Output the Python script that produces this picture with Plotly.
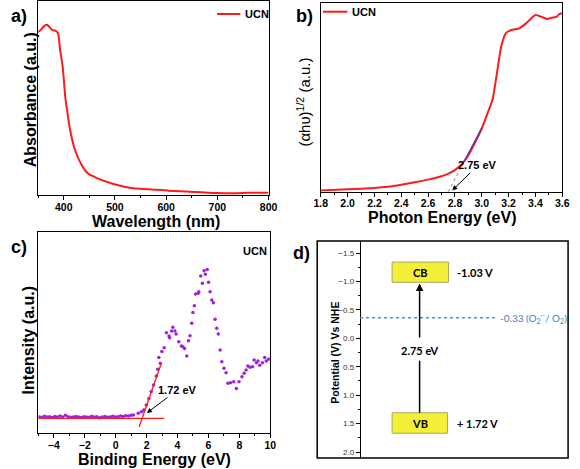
import plotly.graph_objects as go

W, H = 580, 469
def px(x): return x / W
def py(y): return 1 - y / H

FONT = "Arial, 'Liberation Sans', sans-serif"
RED = "#ff1a1a"

# ---------------- Panel a: UV-vis absorbance ----------------
wavelength = [350, 355, 360, 364, 368, 372, 378, 385, 389, 393, 398, 403, 406.5, 412.5, 422,
              435, 447, 466, 497, 535, 567, 605, 640, 669, 700, 732, 760, 795, 800]
absorbance = [0.84, 0.85, 0.866, 0.875, 0.876, 0.866, 0.85, 0.845, 0.833, 0.747, 0.66, 0.507,
              0.438, 0.335, 0.232, 0.155, 0.112, 0.086, 0.057, 0.035, 0.03, 0.022, 0.018,
              0.014, 0.01, 0.009, 0.011, 0.012, 0.012]

# ---------------- Panel b: Tauc plot ----------------
photon_energy = [1.8, 2.0, 2.2, 2.3, 2.4, 2.5, 2.6, 2.68, 2.74, 2.79, 2.83, 2.87, 2.91, 2.95,
                 3.0, 3.04, 3.08, 3.12, 3.145, 3.18, 3.22, 3.28, 3.33, 3.37, 3.40, 3.44, 3.49,
                 3.52, 3.56, 3.58, 3.6]
tauc = [0.007, 0.013, 0.02, 0.026, 0.037, 0.05, 0.064, 0.078, 0.092, 0.11, 0.132, 0.162,
        0.205, 0.26, 0.335, 0.41, 0.487, 0.66, 0.77, 0.84, 0.857, 0.866, 0.892, 0.919,
        0.937, 0.928, 0.915, 0.922, 0.928, 0.942, 0.946]
tangent_x = [2.75, 3.0]
tangent_y = [0.0, 0.337]
fit_x = [2.87, 3.0]
fit_y = [0.162, 0.337]
band_gap = 2.75

# ---------------- Panel c: VB-XPS ----------------
binding_energy = [-4.95, -4.78, -4.61, -4.44, -4.27, -4.10, -3.93, -3.76, -3.59, -3.42, -3.25,
                  -3.08, -2.91, -2.74, -2.57, -2.40, -2.23, -2.06, -1.89, -1.72, -1.55, -1.38,
                  -1.21, -1.04, -0.87, -0.70, -0.53, -0.36, -0.19, -0.02, 0.15, 0.32, 0.49,
                  0.66, 0.83, 1.00, 1.15, 1.46, 1.67, 1.82, 1.98, 2.15, 2.30, 2.45, 2.63, 2.72,
                  2.79, 2.89, 2.99, 3.14, 3.28, 3.45, 3.49, 3.62, 3.70, 3.83, 3.91, 4.08, 4.25,
                  4.35, 4.46, 4.60, 4.71, 4.81, 4.92, 5.00, 5.09, 5.17, 5.34, 5.38, 5.50, 5.61,
                  5.72, 5.80, 5.92, 6.01, 6.11, 6.22, 6.32, 6.43, 6.54, 6.64, 6.76, 6.87, 7.01,
                  7.14, 7.26, 7.43, 7.64, 7.81, 7.98, 8.17, 8.31, 8.44, 8.55, 8.69, 8.86, 8.96,
                  9.11, 9.21, 9.32, 9.49, 9.64, 9.74, 9.89]
intensity = [0.080, 0.078, 0.083, 0.079, 0.081, 0.077, 0.082, 0.080, 0.084, 0.079, 0.088,
             0.081, 0.078, 0.080, 0.082, 0.079, 0.077, 0.081, 0.080, 0.078, 0.083, 0.079,
             0.081, 0.076, 0.080, 0.082, 0.078, 0.080, 0.083, 0.079, 0.081, 0.084, 0.082,
             0.086, 0.085, 0.088, 0.090, 0.098, 0.106, 0.114, 0.139, 0.172, 0.206, 0.239,
             0.284, 0.317, 0.376, 0.347, 0.405, 0.424, 0.499, 0.483, 0.474, 0.507, 0.526,
             0.507, 0.493, 0.454, 0.433, 0.429, 0.421, 0.383, 0.459, 0.484, 0.546, 0.600,
             0.633, 0.692, 0.695, 0.703, 0.781, 0.745, 0.807, 0.790, 0.814, 0.750, 0.703,
             0.662, 0.648, 0.566, 0.521, 0.493, 0.413, 0.355, 0.322, 0.300, 0.247, 0.250,
             0.255, 0.222, 0.255, 0.280, 0.297, 0.313, 0.333, 0.327, 0.330, 0.363, 0.350,
             0.358, 0.337, 0.350, 0.376, 0.358, 0.367]
base_fit_x = [-5.0, 3.14]
base_fit_y = [0.073, 0.073]
edge_fit_x = [1.52, 2.93]
edge_fit_y = [0.031, 0.342]
vb_xps = 1.72

# ---------------- Panel d: band diagram ----------------
cb_potential = -1.03
vb_potential = 1.72
o2_level = -0.36
cb_box = [-1.34, -0.985]
vb_box = [1.31, 1.67]

fig = go.Figure()

fig.add_trace(go.Scatter(x=wavelength, y=absorbance, mode="lines",
                         line=dict(color=RED, width=2, shape="spline", smoothing=0.6),
                         xaxis="x", yaxis="y", showlegend=False))

fig.add_trace(go.Scatter(x=tangent_x, y=tangent_y, mode="lines",
                         line=dict(color="#888888", width=1, dash="dot"),
                         xaxis="x2", yaxis="y2", showlegend=False))
fig.add_trace(go.Scatter(x=photon_energy, y=tauc, mode="lines",
                         line=dict(color=RED, width=2, shape="spline", smoothing=0.5),
                         xaxis="x2", yaxis="y2", showlegend=False))
fig.add_trace(go.Scatter(x=fit_x, y=fit_y, mode="lines",
                         line=dict(color="#5a2ad0", width=1.2),
                         xaxis="x2", yaxis="y2", showlegend=False))

fig.add_trace(go.Scatter(x=binding_energy, y=intensity, mode="markers",
                         marker=dict(color="#a020e0", size=3.5),
                         xaxis="x3", yaxis="y3", showlegend=False))
fig.add_trace(go.Scatter(x=base_fit_x, y=base_fit_y, mode="lines",
                         line=dict(color=RED, width=1.3),
                         xaxis="x3", yaxis="y3", showlegend=False))
fig.add_trace(go.Scatter(x=edge_fit_x, y=edge_fit_y, mode="lines",
                         line=dict(color=RED, width=1.3),
                         xaxis="x3", yaxis="y3", showlegend=False))

# invisible trace to activate panel d axes
fig.add_trace(go.Scatter(x=[0.5], y=[o2_level], mode="markers", marker=dict(opacity=0),
                         xaxis="x4", yaxis="y4", showlegend=False, hoverinfo="skip"))

tickfont = dict(family=FONT, size=10.5, color="black", weight="bold")

def frame_x(domain, rng, dtick, minor, fmt=None, tick0=None):
    d = dict(domain=domain, range=rng, dtick=dtick, showline=True, linecolor="black",
             linewidth=1.3, mirror=True, ticks="outside", ticklen=4, tickwidth=1.2,
             tickcolor="black", tickfont=tickfont, showgrid=False, zeroline=False,
             ticklabelstandoff=-2,
             minor=dict(dtick=minor, ticks="outside", ticklen=2, tickcolor="black"))
    if fmt: d["tickformat"] = fmt
    if tick0 is not None: d["tick0"] = tick0
    return d

def frame_y(domain, anchor):
    return dict(domain=domain, range=[0, 1], showline=True, linecolor="black", linewidth=1.3,
                mirror=True, ticks="", showticklabels=False, showgrid=False, zeroline=False,
                anchor=anchor)

fig.update_layout(
    width=W, height=H, margin=dict(l=0, r=0, t=0, b=0),
    paper_bgcolor="white", plot_bgcolor="white",
    xaxis=frame_x([px(32), px(269)], [350, 800], 100, 50, tick0=0),
    yaxis=frame_y([py(195), py(1)], "x"),
    xaxis2=dict(frame_x([px(322.7), px(571)], [1.8, 3.6], 0.2, 0.1, ".1f"), anchor="y2"),
    yaxis2=frame_y([py(191.7), py(3)], "x2"),
    xaxis3=dict(frame_x([px(32.3), px(270.7)], [-5, 10], 2, 1, tick0=0), anchor="y3"),
    yaxis3=frame_y([py(433), py(232)], "x3"),
    xaxis4=dict(domain=[px(319), px(577)], range=[0, 1], visible=False, anchor="y4"),
    yaxis4=dict(domain=[py(458), py(241)], range=[2.1055, -1.711], anchor="free",
                position=px(363), side="left", showline=True, linecolor="black", linewidth=1.3,
                ticks="outside", ticklen=4, tickcolor="black", dtick=0.5, tick0=0,
                tickformat=".1f", tickfont=dict(family=FONT, size=8, color="#333333"),
                showgrid=False, zeroline=False,
                minor=dict(dtick=0.25, ticks="outside", ticklen=2, tickcolor="black")),
)

shapes = []
ann = []

def text(x, y, t, size, xanchor="center", yanchor="middle", angle=0, color="black",
         xref="paper", yref="paper", family=FONT):
    ann.append(dict(x=x, y=y, xref=xref, yref=yref, text=t, showarrow=False,
                    xanchor=xanchor, yanchor=yanchor, textangle=angle,
                    font=dict(family=family, size=size, color=color)))

# panel labels
text(px(2), py(16), "<b>a)</b>", 18, xanchor="left")
text(px(295), py(16), "<b>b)</b>", 18, xanchor="left")
text(px(2), py(247), "<b>c)</b>", 18, xanchor="left")
text(px(292), py(253), "<b>d)</b>", 18, xanchor="left")

# axis titles
text(px(153), py(221), "<b>Wavelength (nm)</b>", 16)
text(px(24), py(100), "<b>Absorbance (a.u.)</b>", 16, angle=-90)
text(px(447), py(218), "<b>Photon Energy (eV)</b>", 16)
text(px(304), py(102), "(αhυ)<sup>1/2</sup> (a.u.)", 15, angle=-90)
text(px(152), py(459), "<b>Binding Energy (eV)</b>", 16)
text(px(22), py(340), "<b>Intensity (a.u.)</b>", 16, angle=-90)
text(px(337), py(353), "<b>Potential (V) Vs NHE</b>", 10.5, angle=-90)

# legends
shapes.append(dict(type="line", xref="paper", yref="paper", x0=px(216), x1=px(240),
                   y0=py(14), y1=py(14), line=dict(color=RED, width=2)))
text(px(243), py(14), "<b>UCN</b>", 11, xanchor="left")
shapes.append(dict(type="line", xref="paper", yref="paper", x0=px(325), x1=px(350),
                   y0=py(11.7), y1=py(11.7), line=dict(color=RED, width=2)))
text(px(353), py(11.7), "<b>UCN</b>", 11, xanchor="left")
text(px(269), py(251), "<b>UCN</b>", 11, xanchor="right")

# panel b arrow annotation
ann.append(dict(x=2.78, y=0.007, xref="x2", yref="y2", ax=2.97, ay=0.139, axref="x2",
                ayref="y2", text=f"<b>{band_gap:.2f} eV</b>", showarrow=True, arrowhead=2,
                arrowsize=1, arrowwidth=1, arrowcolor="black",
                font=dict(family=FONT, size=11, color="black")))
# panel c arrow annotation
ann.append(dict(x=2.02, y=0.10, xref="x3", yref="y3", ax=4.0, ay=0.214, axref="x3",
                ayref="y3", text=f"<b>{vb_xps:.2f} eV</b>", showarrow=True, arrowhead=2,
                arrowsize=1, arrowwidth=1, arrowcolor="black",
                font=dict(family=FONT, size=11, color="black")))

# panel d
shapes.append(dict(type="rect", xref="paper", yref="paper", x0=px(319), x1=px(577),
                   y0=py(458), y1=py(241), line=dict(color="black", width=1.5)))
def bx(p): return (p - 319) / 258
shapes.append(dict(type="rect", xref="x4", yref="y4", x0=bx(396), x1=bx(454),
                   y0=cb_box[0], y1=cb_box[1], fillcolor="#f4f03a",
                   line=dict(color="#a8a860", width=1)))
shapes.append(dict(type="rect", xref="x4", yref="y4", x0=bx(396), x1=bx(453),
                   y0=vb_box[0], y1=vb_box[1], fillcolor="#f4f03a",
                   line=dict(color="#a8a860", width=1)))
shapes.append(dict(type="line", xref="x4", yref="y4", x0=bx(363), x1=bx(501.7),
                   y0=o2_level, y1=o2_level, line=dict(color="#4a8fd6", width=1.5, dash="dot")))
shapes.append(dict(type="line", xref="x4", yref="y4", x0=bx(424.3), x1=bx(424.3),
                   y0=0.394, y1=vb_box[0], line=dict(color="black", width=1.5)))
ann.append(dict(x=bx(424.3), y=cb_box[1] + 0.02, xref="x4", yref="y4", ax=bx(424.3), ay=0.02,
                axref="x4", ayref="y4", text=" ", showarrow=True, arrowhead=2, arrowsize=1,
                arrowwidth=1.5, arrowcolor="black", font=dict(size=1)))
DF = "Lato, 'Open Sans', sans-serif"
text(bx(425), (cb_box[0] + cb_box[1]) / 2, "<b>CB</b>", 11, xref="x4", yref="y4", family=DF)
text(bx(425), (vb_box[0] + vb_box[1]) / 2, "<b>VB</b>", 11, xref="x4", yref="y4", family=DF)
text(bx(461), (cb_box[0] + cb_box[1]) / 2, f"<b>{cb_potential:.2f} V</b>", 11,
     xanchor="left", xref="x4", yref="y4", family=DF)
text(bx(461), (vb_box[0] + vb_box[1]) / 2, f"<b>+ {vb_potential:.2f} V</b>", 11,
     xanchor="left", xref="x4", yref="y4", family=DF)
text(bx(424.3), 0.206, f"<b>{band_gap:.2f} eV</b>", 11, xref="x4", yref="y4", family=DF)
text(bx(505), o2_level, "-0.33 (O<sub>2</sub><sup>·-</sup>/ O<sub>2</sub>)", 10,
     xanchor="left", xref="x4", yref="y4", color="#3d85c6", family=DF)

fig.update_layout(shapes=shapes, annotations=ann)
fig.write_html("out.html", post_script="document.body.style.margin='0';",
               config={"displayModeBar": False})
